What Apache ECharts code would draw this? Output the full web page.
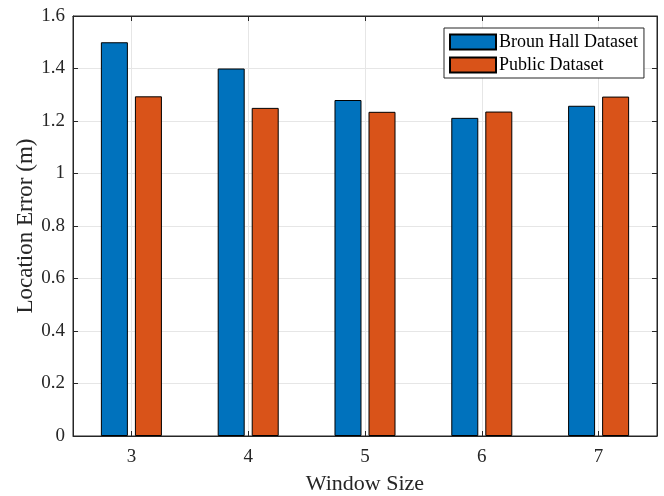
<!DOCTYPE html>
<html>
<head>
<meta charset="utf-8">
<script src="https://cdn.jsdelivr.net/npm/echarts@6/dist/echarts.min.js"></script>
<style>html,body{margin:0;padding:0;background:#fff;}#c{width:664px;height:496px;}</style>
</head>
<body>
<div id="c"></div>
<script>
const categories = ['3', '4', '5', '6', '7'];
const brounHall = [1.50, 1.40, 1.28, 1.212, 1.258];
const publicData = [1.294, 1.25, 1.235, 1.236, 1.293];
const yTicks = { min: 0, max: 1.6, interval: 0.2 };
const seriesNames = ['Broun Hall Dataset', 'Public Dataset'];

const FONT = '"Liberation Serif", "Times New Roman", serif';
const AX = '#262626';
const GRIDC = '#e6e6e6';
// half-category helper axis so grid lines/ticks sit at category centres
const halfCats = [];
categories.forEach(c => { halfCats.push(c + 'a'); halfCats.push(c + 'b'); });
const atCentre = (i) => i % 2 === 1;

const chart = echarts.init(document.getElementById('c'), null, { renderer: 'canvas' });
chart.setOption({
  backgroundColor: '#fff',
  animation: false,
  textStyle: { fontFamily: FONT },
  grid: { left: 73, top: 16, width: 584, height: 420, show: true, borderColor: AX, borderWidth: 1,
          backgroundColor: 'transparent', containLabel: false, outerBoundsMode: 'none' },
  legend: {
    orient: 'vertical', left: 444, top: 28,
    backgroundColor: '#fff', borderColor: AX, borderWidth: 1,
    padding: [5, 6, 4, 5], itemGap: 5, itemWidth: 46, itemHeight: 15,
    icon: 'rect',
    textStyle: { fontFamily: FONT, fontSize: 18, color: '#000', padding: [0, 0, 0, -2] },
    data: seriesNames
  },
  xAxis: [{
    type: 'category', data: categories, position: 'bottom',
    name: 'Window Size', nameLocation: 'middle', nameGap: 37, nameMoveOverlap: false,
    nameTextStyle: { fontFamily: FONT, fontSize: 22, color: AX },
    axisLine: { lineStyle: { color: AX } },
    axisTick: { show: false },
    axisLabel: { fontFamily: FONT, fontSize: 19, color: AX, margin: 12 },
    splitLine: { show: false }
  }, {
    type: 'category', data: halfCats, position: 'bottom',
    axisLine: { show: false },
    axisTick: { show: true, inside: true, length: 5, interval: atCentre, lineStyle: { color: AX } },
    axisLabel: { show: false },
    splitLine: { show: true, interval: atCentre, lineStyle: { color: GRIDC } }
  }, {
    type: 'category', data: halfCats, position: 'top',
    axisLine: { show: true, lineStyle: { color: AX } },
    axisTick: { show: true, inside: true, length: 5, interval: atCentre, lineStyle: { color: AX } },
    axisLabel: { show: false }, splitLine: { show: false }
  }],
  yAxis: [{
    type: 'value', min: yTicks.min, max: yTicks.max, interval: yTicks.interval,
    name: 'Location Error (m)', nameLocation: 'middle', nameGap: 36, nameMoveOverlap: false,
    nameTextStyle: { fontFamily: FONT, fontSize: 23, color: AX },
    axisLine: { show: true, lineStyle: { color: AX } },
    axisTick: { show: true, inside: true, length: 5, lineStyle: { color: AX } },
    axisLabel: { fontFamily: FONT, fontSize: 19, color: AX, margin: 8,
      formatter: v => String(Math.round(v * 10) / 10) },
    splitLine: { show: true, lineStyle: { color: GRIDC } }
  }, {
    type: 'value', min: yTicks.min, max: yTicks.max, interval: yTicks.interval, position: 'right',
    axisLine: { show: true, lineStyle: { color: AX } },
    axisTick: { show: true, inside: true, length: 5, lineStyle: { color: AX } },
    axisLabel: { show: false }, splitLine: { show: false }
  }],
  series: [{
    name: seriesNames[0], type: 'bar', data: brounHall, barWidth: 27, barGap: '26%',
    itemStyle: { color: '#0072BD', borderColor: '#000', borderWidth: 1 }
  }, {
    name: seriesNames[1], type: 'bar', data: publicData, barWidth: 27, barGap: '26%',
    itemStyle: { color: '#D95319', borderColor: '#000', borderWidth: 1 }
  }]
});
</script>
</body>
</html>
